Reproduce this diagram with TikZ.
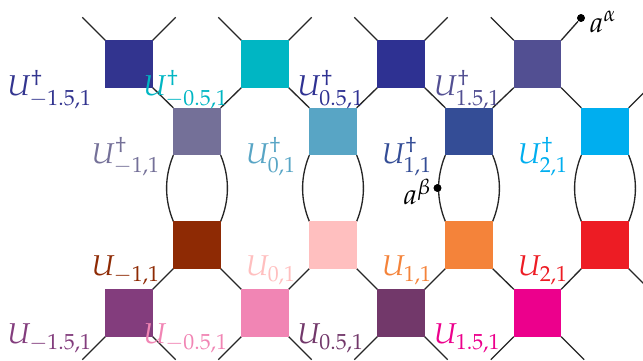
\documentclass[tikz,border=0pt]{standalone}
\usepackage{mathpazo}
\usetikzlibrary{calc}
\definecolor{cT1}{HTML}{32348F}
\definecolor{cT2}{HTML}{00B6C3}
\definecolor{cT3}{HTML}{2E3192}
\definecolor{cT4}{HTML}{524F92}
\definecolor{cD1}{HTML}{747098}
\definecolor{cD2}{HTML}{58A5C5}
\definecolor{cD3}{HTML}{344D96}
\definecolor{cD4}{HTML}{00AEEF}
\definecolor{cU1}{HTML}{8E2A04}
\definecolor{cU2}{HTML}{FFBFBF}
\definecolor{cU3}{HTML}{F4833A}
\definecolor{cU4}{HTML}{ED1C24}
\definecolor{cB1}{HTML}{833D7D}
\definecolor{cB2}{HTML}{F185B4}
\definecolor{cB3}{HTML}{72386A}
\definecolor{cB4}{HTML}{EC008C}
\tikzset{
  sq/.style={rectangle, minimum size=13.8pt, inner sep=0pt, fill=#1},
  wire/.style={line width=0.4pt, black!85},
  lab/.style={anchor=base east, text=#1, inner sep=0pt, font=\fontsize{8.6}{10}\selectfont},
  dotn/.style={circle, fill=black, inner sep=0pt, minimum size=2.3pt}
}
\begin{document}
\begin{tikzpicture}[x=0.3pt, y=-0.3pt]
\useasboundingbox (0,0) rectangle (643,360);
\clip (0,0) rectangle (643,360);
% squares
\node[sq=cT1] (t1) at (129,64) {};
\node[sq=cT2] (t2) at (265,64) {};
\node[sq=cT3] (t3) at (401,64) {};
\node[sq=cT4] (t4) at (537.5,64) {};
\node[sq=cD1] (d1) at (197,131.5) {};
\node[sq=cD2] (d2) at (333,131.5) {};
\node[sq=cD3] (d3) at (469,131.5) {};
\node[sq=cD4] (d4) at (605,131.5) {};
\node[sq=cU1] (u1) at (197,245) {};
\node[sq=cU2] (u2) at (333,245) {};
\node[sq=cU3] (u3) at (469,245) {};
\node[sq=cU4] (u4) at (605,245) {};
\node[sq=cB1] (b1) at (129,313) {};
\node[sq=cB2] (b2) at (265,313) {};
\node[sq=cB3] (b3) at (401,313) {};
\node[sq=cB4] (b4) at (537.5,313) {};
% dots
\node[dotn] (alpha) at (581,18) {};
\node[dotn] (beta) at (437.5,188) {};
% wires top
\foreach \n in {t1,t2,t3} {
  \draw[wire] (\n.north west) -- ++(-23,-23);
  \draw[wire] (\n.north east) -- ++(23,-23);
}
\draw[wire] (t4.north west) -- ++(-23,-23);
\draw[wire] (t4.north east) -- (alpha);
\draw[wire] (t1.south east) -- (d1.north west);
\draw[wire] (t2.south west) -- (d1.north east);
\draw[wire] (t2.south east) -- (d2.north west);
\draw[wire] (t3.south west) -- (d2.north east);
\draw[wire] (t3.south east) -- (d3.north west);
\draw[wire] (t4.south west) -- (d3.north east);
\draw[wire] (t4.south east) -- (d4.north west);
\draw[wire] (d4.north east) -- ++(23,-23);
% curved wires
\foreach \i in {1,2,3,4} {
  \draw[wire] (d\i.south west) .. controls +(-9,22) and +(-9,-22) .. (u\i.north west);
  \draw[wire] (d\i.south east) .. controls +(9,22) and +(9,-22) .. (u\i.north east);
}
% wires bottom
\draw[wire] (u1.south west) -- (b1.north east);
\draw[wire] (u1.south east) -- (b2.north west);
\draw[wire] (u2.south west) -- (b2.north east);
\draw[wire] (u2.south east) -- (b3.north west);
\draw[wire] (u3.south west) -- (b3.north east);
\draw[wire] (u3.south east) -- (b4.north west);
\draw[wire] (u4.south west) -- (b4.north east);
\draw[wire] (u4.south east) -- ++(23,23);
\foreach \n in {b1,b2,b3,b4} {
  \draw[wire] (\n.south west) -- ++(-23,23);
  \draw[wire] (\n.south east) -- ++(23,23);
}
% redraw squares on top
\foreach \n/\c in {t1/cT1,t2/cT2,t3/cT3,t4/cT4,d1/cD1,d2/cD2,d3/cD3,d4/cD4,u1/cU1,u2/cU2,u3/cU3,u4/cU4,b1/cB1,b2/cB2,b3/cB3,b4/cB4}
  \fill[\c] (\n.south west) rectangle (\n.north east);
\node[dotn] at (alpha) {};
\node[dotn] at (beta) {};
% labels
\node[lab=cT1] (lt1) at ($(t1.south west)+(-12,8)$) {$U^\dagger_{-1.5,1}$};
\node[lab=cT2] (lt2) at ($(t2.south west)+(-12,8)$) {$U^\dagger_{-0.5,1}$};
\node[lab=cT3] (lt3) at ($(t3.south west)+(-12,8)$) {$U^\dagger_{0.5,1}$};
\node[lab=cT4] (lt4) at ($(t4.south west)+(-12,8)$) {$U^\dagger_{1.5,1}$};
\node[lab=cD1] (ld1) at ($(d1.south west)+(-12,8)$) {$U^\dagger_{-1,1}$};
\node[lab=cD2] (ld2) at ($(d2.south west)+(-12,8)$) {$U^\dagger_{0,1}$};
\node[lab=cD3] (ld3) at ($(d3.south west)+(-12,8)$) {$U^\dagger_{1,1}$};
\node[lab=cD4] (ld4) at ($(d4.south west)+(-12,8)$) {$U^\dagger_{2,1}$};
\node[lab=cU1] (lu1) at ($(u1.south west)+(-12,7)$) {$U_{-1,1}$};
\node[lab=cU2] (lu2) at ($(u2.south west)+(-12,7)$) {$U_{0,1}$};
\node[lab=cU3] (lu3) at ($(u3.south west)+(-12,7)$) {$U_{1,1}$};
\node[lab=cU4] (lu4) at ($(u4.south west)+(-12,7)$) {$U_{2,1}$};
\node[lab=cB1] (lb1) at ($(b1.south west)+(-12,7)$) {$U_{-1.5,1}$};
\node[lab=cB2] (lb2) at ($(b2.south west)+(-12,7)$) {$U_{-0.5,1}$};
\node[lab=cB3] (lb3) at ($(b3.south west)+(-12,7)$) {$U_{0.5,1}$};
\node[lab=cB4] (lb4) at ($(b4.south west)+(-12,7)$) {$U_{1.5,1}$};
\node[anchor=west, inner sep=0pt, font=\fontsize{8.6}{10}\selectfont] (la) at ($(alpha)+(8,4)$) {$a^\alpha$};
\node[anchor=east, inner sep=0pt, font=\fontsize{8.6}{10}\selectfont] (lbeta) at ($(beta)+(-5,4)$) {$a^\beta$};
\end{tikzpicture}
\end{document}
